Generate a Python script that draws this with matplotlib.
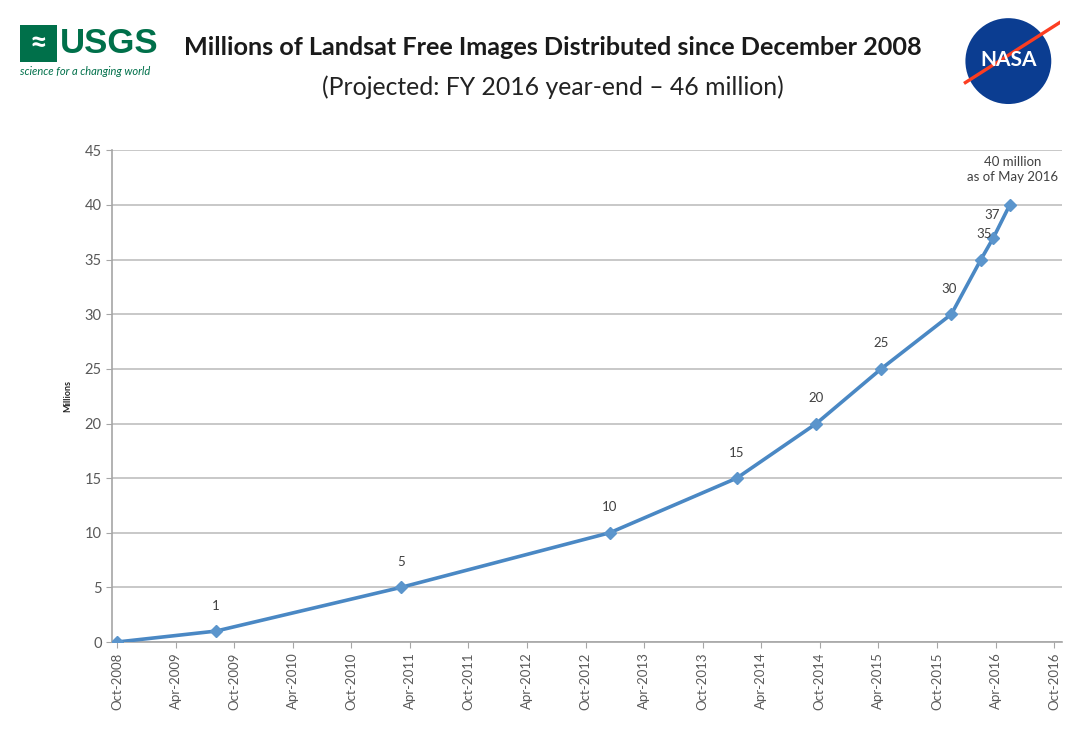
import matplotlib
matplotlib.use("Agg")
import matplotlib.pyplot as plt
import matplotlib.dates as mdates
from matplotlib.patches import Circle, Rectangle
import pandas as pd

# data
dates = ["2008-10-01", "2009-08-05", "2011-03-05", "2012-12-15", "2014-01-15",
         "2014-09-20", "2015-04-10", "2015-11-15", "2016-02-15", "2016-03-25",
         "2016-05-15"]
millions = [0, 1, 5, 10, 15, 20, 25, 30, 35, 37, 40]
labels = ["", "1", "5", "10", "15", "20", "25", "30", "35", "37", "40 million\nas of May 2016"]
# label offsets in points (dx, dy)
label_offsets = [(0, 0), (0, 14), (0, 14), (0, 14), (0, 14), (0, 14), (0, 14),
                 (-2, 14), (2, 14), (-1, 12), (2, 16)]
tick_dates = pd.date_range("2008-10-01", "2016-10-01", freq="6MS")

x = pd.to_datetime(dates)

plt.rcParams['font.family'] = ['Lato', 'DejaVu Sans']
fig = plt.figure(figsize=(10.71, 7.36), dpi=100)
fig.patch.set_facecolor("white")

ax = fig.add_axes([0.1046, 0.1277, 0.887, 0.668])
line_color = "#4a88c4"
ax.plot(x, millions, color=line_color, linewidth=2.6, marker="D", markersize=6,
        markerfacecolor="#5b95cc", markeredgecolor="#5b95cc", zorder=3)

for xi, yi, lab, (dx, dy) in zip(x, millions, labels, label_offsets):
    if lab:
        ax.annotate(lab, (xi, yi), xytext=(dx, dy), textcoords="offset points",
                    ha="center", va="bottom", fontsize=9.5, color="#404040",
                    linespacing=1.3)

ax.set_ylim(0, 45)
ax.set_yticks(range(0, 46, 5))
ax.set_xlim(pd.Timestamp("2008-09-15"), pd.Timestamp("2016-10-25"))
ax.set_xticks(tick_dates)
ax.xaxis.set_major_formatter(mdates.DateFormatter("%b-%Y"))
for lab in ax.get_xticklabels():
    lab.set_rotation(90)

ax.grid(axis="y", color="#bfbfbf", linewidth=1.2)
ax.set_axisbelow(True)
for side in ["top", "right"]:
    ax.spines[side].set_visible(False)
for side in ["left", "bottom"]:
    ax.spines[side].set_color("#a6a6a6")
    ax.spines[side].set_linewidth(1.2)
ax.tick_params(axis="both", colors="#a6a6a6", labelcolor="#595959", length=4)
ax.tick_params(axis="y", labelsize=10.5)
ax.tick_params(axis="x", labelsize=9.5)
ax.set_ylabel("Millions", fontsize=6.5, fontweight="bold", color="#222222", labelpad=9)

# titles
fig.text(0.516, 0.936, "Millions of Landsat Free Images Distributed since December 2008",
         ha="center", va="center", fontsize=18.2, fontweight="bold", color="#1a1a1a")
fig.text(0.516, 0.882, "(Projected: FY 2016 year-end \u2013 46 million)",
         ha="center", va="center", fontsize=17.8, color="#222222")

# USGS logo (rough)
usgs_green = "#00704a"
fig.patches.append(Rectangle((0.019, 0.916), 0.034, 0.05, transform=fig.transFigure,
                             facecolor=usgs_green, edgecolor="none"))
fig.text(0.036, 0.941, "\u2248", color="white", fontsize=22, ha="center", va="center",
         fontweight="bold")
fig.text(0.056, 0.941, "USGS", color=usgs_green, fontsize=25, fontweight="bold",
         ha="left", va="center", family=["Liberation Sans Narrow", "Liberation Sans", "DejaVu Sans"])
fig.text(0.019, 0.903, "science for a changing world", color=usgs_green, fontsize=8,
         style="italic", ha="left", va="center")

# NASA logo (rough)
lax = fig.add_axes([0.883, 0.847, 0.117, 0.14])
lax.set_xlim(-1.2, 1.2)
lax.set_ylim(-1.2, 1.2)
lax.set_aspect("equal")
lax.axis("off")
lax.add_patch(Circle((0, 0), 1.0, facecolor="#0b3d91", edgecolor="none"))
lax.plot([-1.0, 1.2], [-0.5, 0.9], color="#fc3d21", linewidth=2.4)
lax.text(0, 0.02, "NASA", color="white", fontsize=15, fontweight="bold", ha="center", va="center")

fig.savefig("out.png", dpi=100)
